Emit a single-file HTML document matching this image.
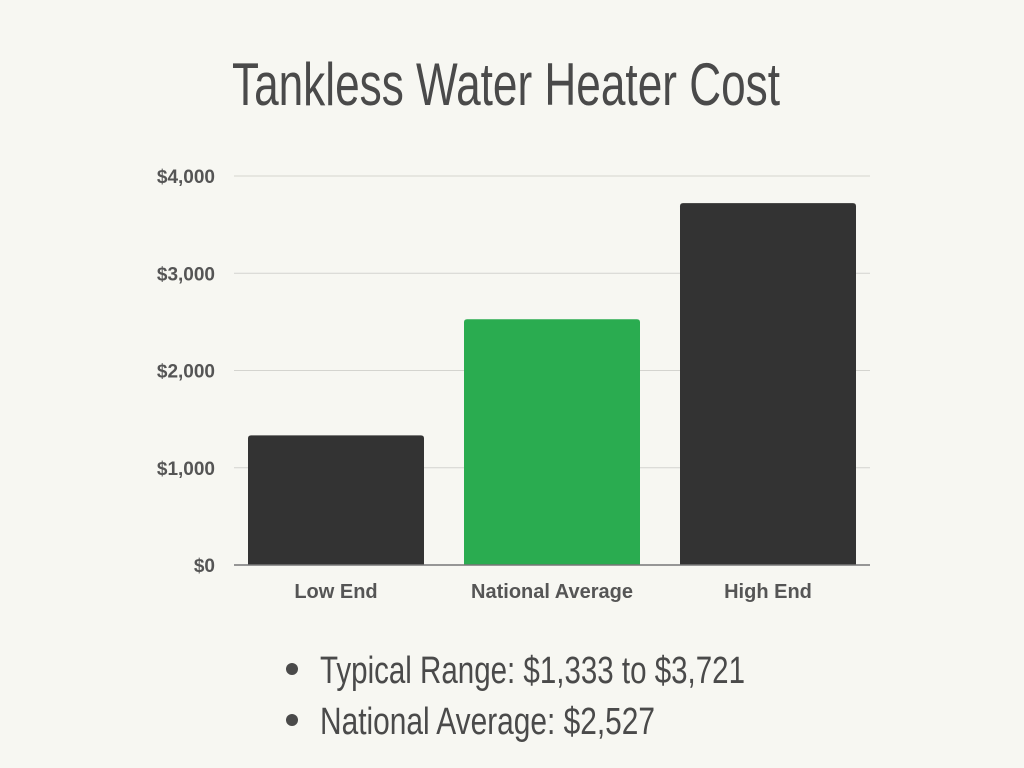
<!DOCTYPE html>
<html><head><meta charset="utf-8"><style>
html,body{margin:0;padding:0;background:#f7f7f2;}
svg{display:block;}
</style></head><body>
<svg id="chart" width="1024" height="768" viewBox="0 0 1024 768" xmlns="http://www.w3.org/2000/svg">
<rect width="1024" height="768" fill="#f7f7f2"/>
<text x="232" y="105" textLength="548" lengthAdjust="spacingAndGlyphs" font-family="Liberation Sans, sans-serif" font-size="60" fill="#4a4a4a">Tankless Water Heater Cost</text>
<g id="grid"></g>
<g id="yticks"></g>
<g id="bars"></g>
<g id="xlabels"></g>
<line x1="234" x2="870" y1="565" y2="565" stroke="#777" stroke-width="1.5"/>
<g>
<circle cx="292" cy="669" r="6" fill="#4a4a4a"/>
<text x="320" y="683" textLength="425" lengthAdjust="spacingAndGlyphs" font-family="Liberation Sans, sans-serif" font-size="38" fill="#4a4a4a">Typical Range: $1,333 to $3,721</text>
<circle cx="292" cy="720" r="6" fill="#4a4a4a"/>
<text x="320" y="734" textLength="335" lengthAdjust="spacingAndGlyphs" font-family="Liberation Sans, sans-serif" font-size="38" fill="#4a4a4a">National Average: $2,527</text>
</g>
</svg>
<script>
const categories = ["Low End", "National Average", "High End"];
const values = [1333, 2527, 3721];
const barColors = ["#333333", "#2aac50", "#333333"];
const tickValues = [0, 1000, 2000, 3000, 4000];
const tickLabels = ["$0", "$1,000", "$2,000", "$3,000", "$4,000"];

const NS = "http://www.w3.org/2000/svg";
const plotL = 234, plotR = 870, y0 = 565, yTop = 176, yMax = 4000;
function yScale(v){ return y0 - (v / yMax) * (y0 - yTop); }
const band = (plotR - plotL) / categories.length;
const barW = 176;
function xScale(i){ return plotL + i * band + (band - barW) / 2 + (i - 1) * 4; }

const grid = document.getElementById('grid');
const yt = document.getElementById('yticks');
tickValues.forEach((v, i) => {
  const y = yScale(v);
  if (v > 0) {
    const l = document.createElementNS(NS, 'line');
    l.setAttribute('x1', plotL); l.setAttribute('x2', plotR);
    l.setAttribute('y1', y); l.setAttribute('y2', y);
    l.setAttribute('stroke', '#d4d4cf'); l.setAttribute('stroke-width', '1');
    
    
    grid.appendChild(l);
  }
  const t = document.createElementNS(NS, 'text');
  t.setAttribute('x', 215); t.setAttribute('y', y + 7);
  t.setAttribute('text-anchor', 'end');
  t.setAttribute('font-family', 'Liberation Sans, sans-serif');
  t.setAttribute('font-weight', 'bold');
  t.setAttribute('font-size', '19');
  t.setAttribute('fill', '#555');
  t.textContent = tickLabels[i];
  
  
  yt.appendChild(t);
});

const bars = document.getElementById('bars');
const xl = document.getElementById('xlabels');
categories.forEach((c, i) => {
  const x = xScale(i), y = yScale(values[i]);
  const h = y0 - y, r = 3;
  const p = document.createElementNS(NS, 'path');
  p.setAttribute('d', `M${x},${y0} L${x},${y+r} Q${x},${y} ${x+r},${y} L${x+barW-r},${y} Q${x+barW},${y} ${x+barW},${y+r} L${x+barW},${y0} Z`);
  p.setAttribute('fill', barColors[i]);
  
  
  bars.appendChild(p);
  const t = document.createElementNS(NS, 'text');
  t.setAttribute('x', x + barW / 2); t.setAttribute('y', 598);
  t.setAttribute('text-anchor', 'middle');
  t.setAttribute('font-family', 'Liberation Sans, sans-serif');
  t.setAttribute('font-weight', 'bold');
  t.setAttribute('font-size', '20');
  t.setAttribute('fill', '#555');
  t.textContent = c;
  
  
  xl.appendChild(t);
});
</script>
</body></html>
